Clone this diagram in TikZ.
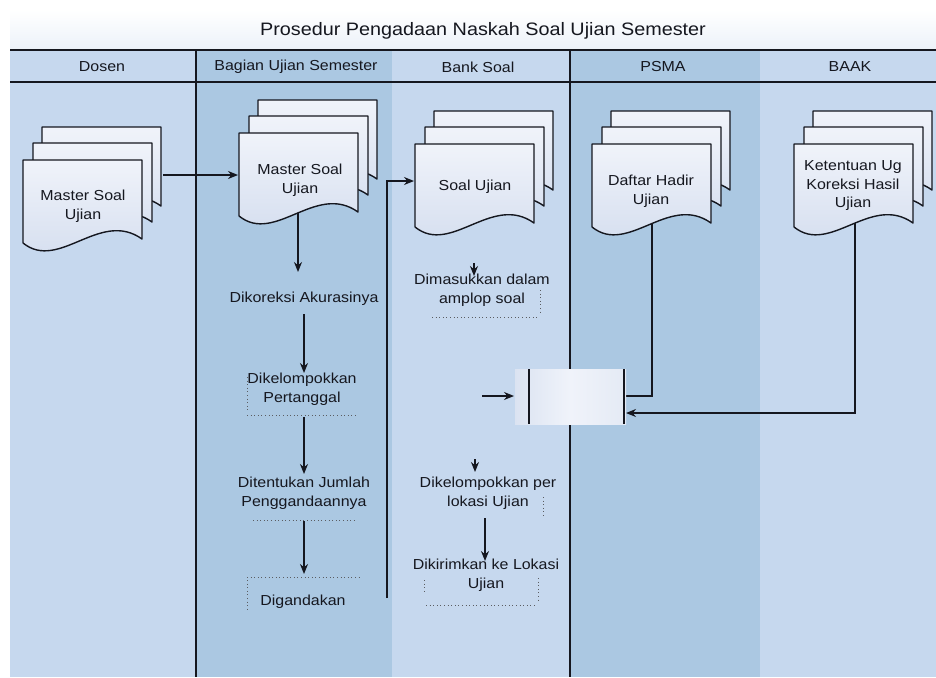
\documentclass[tikz,border=0pt]{standalone}
\usepackage{fontspec}
\setmainfont{Liberation Sans}[FakeStretch=1.1]
\usetikzlibrary{arrows.meta}
\definecolor{laneL}{HTML}{C6D8EE}
\definecolor{laneD}{HTML}{ABC8E2}
\definecolor{ink}{HTML}{15171F}
\definecolor{docT}{HTML}{F0F3FA}
\definecolor{docB}{HTML}{D2DCEE}
\tikzset{
  conn/.style={draw=ink, line width=1.4pt},
  arr/.style={conn, -{Stealth[length=10pt,width=8pt]}},
  docline/.style={draw=ink, line width=1.4pt},
  docfill/.style={top color=docT, bottom color=docB},
  body/.style={text=ink, align=center, font=\fontsize{14.5}{18.5}\selectfont, inner sep=0pt},
  hdr/.style={text=ink, font=\fontsize{14.5}{17}\selectfont, inner sep=0pt},
  dotbox/.style={draw=ink!70, line width=0.8pt, dash pattern=on 1pt off 2.6pt},
  lanesep/.style={draw=ink, line width=1.5pt},
}
% one document shape, top-left at (#1,#2)
\newcommand{\onedoc}[2]{%
  \begin{scope}[shift={(#1,#2)}]
    \path[docfill] (0,0) -- (119,0) -- (119,79) .. controls (77,49) and (36,112) .. (0,83) -- cycle;
    \draw[docline, line join=round] (0,83) -- (0,0) -- (119,0) -- (119,79) .. controls (77,49) and (36,112) .. (0,83);
  \end{scope}}
% three stacked documents, front top-left at (#1,#2)
\newcommand{\multidoc}[2]{%
  \onedoc{#1+19}{#2-33}\onedoc{#1+10}{#2-17}\onedoc{#1}{#2}}
\begin{document}
\begin{tikzpicture}[x=1pt,y=-1pt]
\useasboundingbox (0,0) rectangle (936,677);
\fill[white] (0,0) rectangle (936,677);
% title band
\shade[top color=white, bottom color=laneL!35] (10,10) rectangle (936,50);
\node[text=ink, font=\fontsize{18}{20}\selectfont, inner sep=0pt] (title) at (483,31) {Prosedur Pengadaan Naskah Soal Ujian Semester};
% lanes
\fill[laneL] (10,50) rectangle (196,677);
\fill[laneD] (196,50) rectangle (392,677);
\fill[laneL] (392,50) rectangle (570,677);
\fill[laneD] (570,50) rectangle (760,677);
\fill[laneL] (760,50) rectangle (936,677);
\draw[draw=ink, line width=1.8pt] (10,50) -- (936,50);
\draw[draw=ink, line width=1.5pt] (10,82) -- (936,82);
\draw[lanesep] (196,50) -- (196,677);
\draw[lanesep] (570,50) -- (570,677);
% lane headers
\node[hdr] (h1) at (102,67) {Dosen};
\node[hdr] (h2) at (296,67) {Bagian Ujian Semester};
\node[hdr] (h3) at (478,67) {Bank Soal};
\node[hdr] (h4) at (663,67) {PSMA};
\node[hdr] (h5) at (850,67) {BAAK};

% connector points
\coordinate (d1r) at (163,175);
\coordinate (d2l) at (238,175);
\coordinate (d2b) at (298,205);
\coordinate (t1in) at (298,272);
\coordinate (t1out) at (304,314);
\coordinate (t2in) at (304,373);
\coordinate (t2out) at (304,417);
\coordinate (t3in) at (304,474);
\coordinate (t3out) at (304,521);
\coordinate (t4in) at (304,574);
\coordinate (upS) at (387,598);
\coordinate (upT) at (387,181);
\coordinate (d3l) at (414,181);
\coordinate (b1s) at (474,263);
\coordinate (b1in) at (474,276);
\coordinate (b2s) at (475,459);
\coordinate (b2in) at (475,472);
\coordinate (b2out) at (485,518);
\coordinate (b3in) at (485,561);
\coordinate (pin) at (482,396);
\coordinate (pL) at (514,396);
\coordinate (d4b) at (652,215);
\coordinate (d4k) at (652,396);
\coordinate (pR1) at (625,396);
\coordinate (d5b) at (855,215);
\coordinate (d5k) at (855,413);
\coordinate (pR2) at (626,413);

% connectors
\draw[arr] (d1r) -- (d2l);
\draw[arr] (d2b) -- (t1in);
\draw[arr] (t1out) -- (t2in);
\draw[arr] (t2out) -- (t3in);
\draw[arr] (t3out) -- (t4in);
\draw[arr] (upS) -- (upT) -- (d3l);
\draw[arr] (b1s) -- (b1in);
\draw[arr] (b2s) -- (b2in);
\draw[arr] (b2out) -- (b3in);
\draw[conn] (d4b) -- (d4k) -- (pR1);
\draw[arr] (d5b) -- (d5k) -- (pR2);
\draw[arr] (pin) -- (pL);

% documents
\multidoc{23}{160}
\multidoc{239}{133}
\multidoc{415}{144}
\multidoc{592}{144}
\multidoc{794}{144}
\node[body] (d1) at (83,206) {Master Soal\\Ujian};
\node[body] (d2) at (300,180) {Master Soal\\Ujian};
\node[body] (d3) at (475,187) {Soal Ujian};
\node[body] (d4) at (651,191) {Daftar Hadir\\Ujian};
\node[body] (d5) at (853,186) {Ketentuan Ug\\Koreksi Hasil\\Ujian};

% merge box
\shade[left color=docB!80, right color=docB!60, middle color=docT] (515,369) rectangle (626,424);
\draw[conn] (529,369) -- (529,424);
\draw[conn] (624,369) -- (624,424);
\node[inner sep=0pt, minimum width=0pt] (pbox) at (572,396) {};

% process texts
\node[body] (t1) at (304,299) {Dikoreksi Akurasinya};
\node[body] (t2) at (302,389) {Dikelompokkan\\Pertanggal};
\node[body] (t3) at (304,493) {Ditentukan Jumlah\\Penggandaannya};
\node[body] (t4) at (303,602) {Digandakan};
\node[body] (b1) at (482,290) {Dimasukkan dalam\\amplop soal};
\node[body] (b2) at (488,493) {Dikelompokkan per\\lokasi Ujian};
\node[body] (b3) at (486,575) {Dikirimkan ke Lokasi\\Ujian};

% dotted outlines
\draw[dotbox] (247,377) -- (247,410);
\draw[dotbox] (247,415) -- (358,415);
\draw[dotbox] (253,520) -- (357,520);
\draw[dotbox] (247,577) -- (361,577);
\draw[dotbox] (247,580) -- (247,610);
\draw[dotbox] (432,317) -- (540,317);
\draw[dotbox] (540,290) -- (540,315);
\draw[dotbox] (543,497) -- (543,518);
\draw[dotbox] (424,580) -- (424,592);
\draw[dotbox] (538,578) -- (538,600);
\draw[dotbox] (426,605) -- (536,605);
\end{tikzpicture}
\end{document}
